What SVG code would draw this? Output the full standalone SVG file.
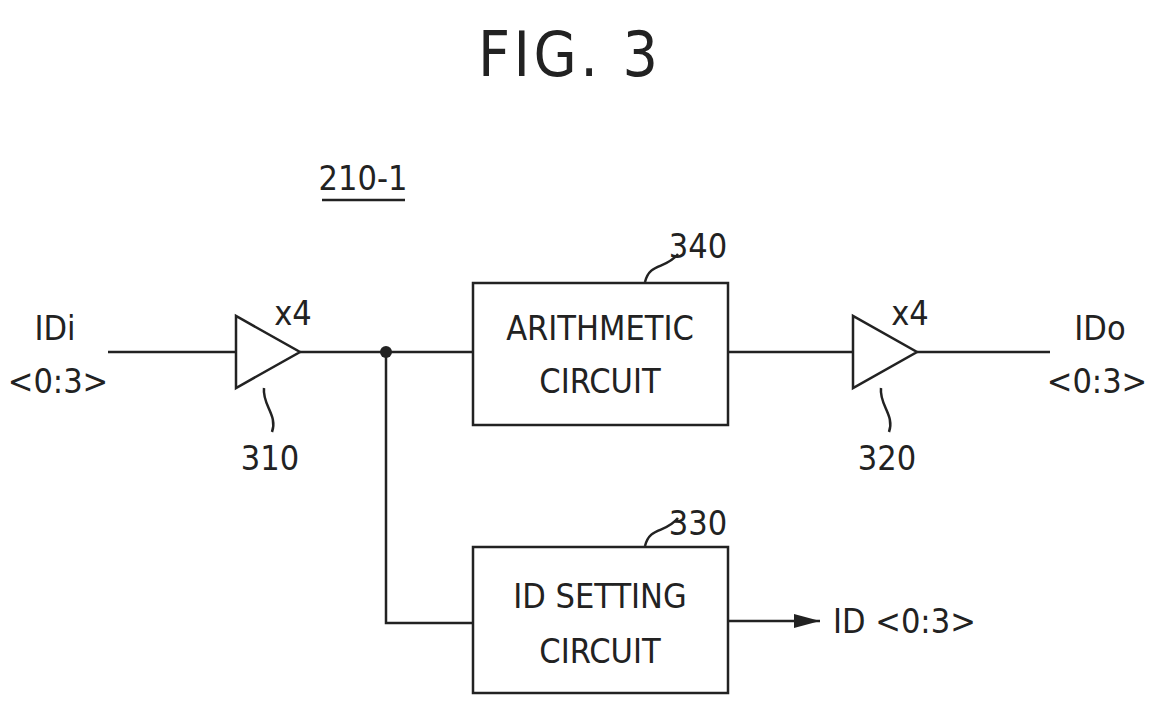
<svg xmlns="http://www.w3.org/2000/svg" width="1161" height="717" viewBox="0 0 1161 717">
<defs>
<style>
text{font-family:"DejaVu Sans","Liberation Sans",sans-serif;font-stretch:condensed;fill:#222;}
.t{font-size:34px;}
.l{stroke:#222;stroke-width:2.5;fill:none;}
</style>
<marker id="ar" viewBox="0 0 26 14" refX="26" refY="7" markerWidth="26" markerHeight="14" markerUnits="userSpaceOnUse" orient="auto"><path d="M0,0 L26,7 L0,14 Z" fill="#222"/></marker>
</defs>
<rect width="1161" height="717" fill="#fff"/>
<text x="568" y="76" font-size="62" text-anchor="middle" textLength="180">FIG. 3</text>
<text x="363" y="190" class="t" text-anchor="middle">210-1</text>
<line x1="322" y1="200" x2="405" y2="200" class="l"/>
<g id="connectors">
<line x1="108" y1="352" x2="236" y2="352" class="l"/>
<line x1="300" y1="352" x2="473" y2="352" class="l"/>
<polyline points="386,352 386,623 473,623" class="l"/>
<line x1="728" y1="352" x2="853" y2="352" class="l"/>
<line x1="917" y1="352" x2="1050" y2="352" class="l"/>
<line x1="728" y1="621" x2="820" y2="621" class="l" marker-end="url(#ar)"/>
<circle cx="386" cy="352" r="6" fill="#222"/>
</g>
<g id="in"><text x="55" y="340" class="t" text-anchor="middle">IDi</text><text x="58" y="393" class="t" text-anchor="middle">&lt;0:3&gt;</text></g>
<g id="out"><text x="1100" y="340" class="t" text-anchor="middle">IDo</text><text x="1097" y="393" class="t" text-anchor="middle">&lt;0:3&gt;</text></g>
<g id="b310"><polygon points="236,316 236,388 300,352" class="l"/><text x="293" y="325" class="t" text-anchor="middle">x4</text>
<path d="M264,388 C262,405 278,415 272,432" class="l" stroke-width="1.5"/><text x="270" y="470" class="t" text-anchor="middle">310</text></g>
<g id="b320"><polygon points="853,316 853,388 917,352" class="l"/><text x="910" y="325" class="t" text-anchor="middle">x4</text>
<path d="M881,388 C879,405 895,415 889,432" class="l" stroke-width="1.5"/><text x="887" y="470" class="t" text-anchor="middle">320</text></g>
<g id="n340"><rect x="473" y="283" width="255" height="142" class="l"/>
<text x="600" y="340" class="t" text-anchor="middle">ARITHMETIC</text><text x="600" y="393" class="t" text-anchor="middle">CIRCUIT</text>
<path d="M645,282 C650,262 665,270 678,254" class="l" stroke-width="1.5"/><text x="698" y="258" class="t" text-anchor="middle">340</text></g>
<g id="n330"><rect x="473" y="547" width="255" height="146" class="l"/>
<text x="600" y="608" class="t" text-anchor="middle">ID SETTING</text><text x="600" y="663" class="t" text-anchor="middle">CIRCUIT</text>
<path d="M645,546 C650,526 665,534 678,518" class="l" stroke-width="1.5"/><text x="698" y="535" class="t" text-anchor="middle">330</text></g>
<text x="833" y="633" class="t">ID &lt;0:3&gt;</text>
</svg>
